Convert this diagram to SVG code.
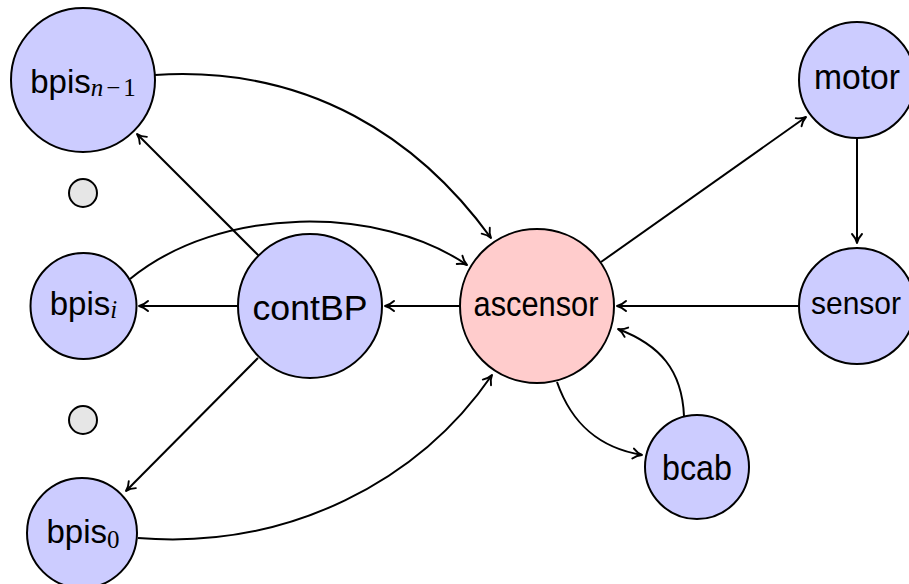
<svg xmlns="http://www.w3.org/2000/svg" width="909" height="584" viewBox="0 0 909 584">
<style>
.nd{fill:#ccccff;stroke:#000;stroke-width:2}
.red{fill:#ffcccc;stroke:#000;stroke-width:2}
.dot{fill:#e6e6e6;stroke:#000;stroke-width:2}
.lb{font-family:"Liberation Sans",Arial,sans-serif;font-size:33px;fill:#000;text-anchor:middle}
.big{font-size:35px}
.sub{font-family:"Liberation Serif","Times New Roman",serif;font-size:25px;font-style:italic}
.subr{font-family:"Liberation Serif","Times New Roman",serif;font-size:25px}
.ed{fill:none;stroke:#000;stroke-width:2;marker-end:url(#arr)}
</style>
<defs>
<marker id="arr" viewBox="-10 -6 12 12" markerWidth="12" markerHeight="12" refX="0" refY="0" orient="auto" markerUnits="userSpaceOnUse" overflow="visible">
<path d="M-9,-5 C-6,-2.2 -2.2,-0.5 0,0 C-2.2,0.5 -6,2.2 -9,5" fill="none" stroke="#000" stroke-width="1.9" stroke-linecap="round" stroke-linejoin="round"/>
</marker>
</defs>
<g id="connectors">
<path class="ed" d="M155,75 C310,65 420,140 491,238"/>
<path class="ed" d="M259,256 L137,134"/>
<path class="ed" d="M130,279 C220,205 380,205 467,265"/>
<path class="ed" d="M238,306 L139,306"/>
<path class="ed" d="M460,306 L385,306"/>
<path class="ed" d="M258,358 L126,491"/>
<path class="ed" d="M138,538 C290,550 420,480 492,375"/>
<path class="ed" d="M601,262 L806,117"/>
<path class="ed" d="M857,138 L857,243"/>
<path class="ed" d="M798,306 L617,306"/>
<path class="ed" d="M557,382 C572,425 600,448 642,455"/>
<path class="ed" d="M684,416 C682,370 660,345 618,329"/>
</g>
<g id="bpis_n-1">
<circle class="nd" cx="83" cy="80" r="72"/>
<text class="lb" x="83" y="93">bpis<tspan class="sub" dy="3">n</tspan><tspan class="subr" dx="3">−</tspan><tspan class="subr" dx="3">1</tspan></text>
</g>
<g id="dot1"><circle class="dot" cx="83" cy="193" r="14"/></g>
<g id="bpis_i">
<circle class="nd" cx="83.5" cy="306" r="53"/>
<text class="lb" x="83.5" y="315">bpis<tspan class="sub" dy="3">i</tspan></text>
</g>
<g id="dot2"><circle class="dot" cx="83" cy="420" r="14"/></g>
<g id="bpis_0">
<circle class="nd" cx="82" cy="533" r="55"/>
<text class="lb" x="83" y="543">bpis<tspan class="subr" dy="5">0</tspan></text>
</g>
<g id="contBP">
<circle class="nd" cx="310" cy="306" r="72"/>
<text class="lb big" x="310" y="320" textLength="115" lengthAdjust="spacingAndGlyphs">contBP</text>
</g>
<g id="ascensor">
<circle class="red" cx="537" cy="306" r="77"/>
<text class="lb big" x="536" y="316" textLength="125" lengthAdjust="spacingAndGlyphs">ascensor</text>
</g>
<g id="motor">
<circle class="nd" cx="857" cy="80" r="58"/>
<text class="lb big" x="857" y="89" textLength="86" lengthAdjust="spacingAndGlyphs">motor</text>
</g>
<g id="sensor">
<circle class="nd" cx="857" cy="306" r="58"/>
<text class="lb" x="856" y="314" style="font-size:32px" textLength="90" lengthAdjust="spacingAndGlyphs">sensor</text>
</g>
<g id="bcab">
<circle class="nd" cx="697" cy="467" r="52"/>
<text class="lb big" x="697" y="480" textLength="70" lengthAdjust="spacingAndGlyphs">bcab</text>
</g>
</svg>
